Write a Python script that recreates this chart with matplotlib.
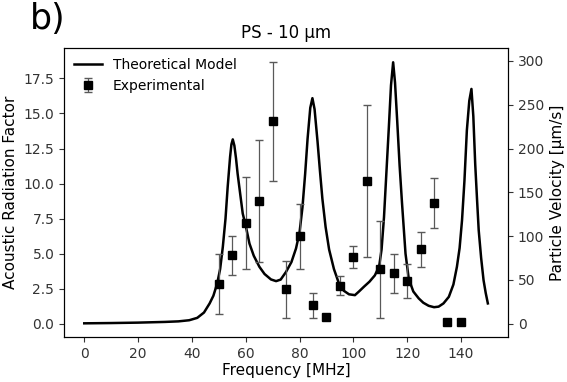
import numpy as np
import matplotlib
matplotlib.use("Agg")
import matplotlib.pyplot as plt

# theoretical model (MHz, acoustic radiation factor)
freq_model = [0, 10, 20, 30, 35, 39, 42, 44.5, 46.6, 48, 49.4, 50.5, 51.5, 52.5,
              53.3, 54.2, 54.7, 55.2, 55.8, 56.4, 57.0, 58.0, 58.9, 60.0, 61.4,
              63.0, 65.1, 67.0, 69.4, 71.3, 73.0, 75.0, 77.0, 78.7, 80.0, 81.1,
              82.1, 83.0, 84.0, 84.8, 85.6, 86.7, 87.6, 88.5, 89.7, 91.0, 92.8,
              94.7, 96.5, 98.4, 100.6, 102.1, 104.0, 106.0, 108.0, 109.6, 110.5,
              111.4, 112.3, 113.2, 114.0, 114.8, 115.5, 116.3, 117.2, 118.1,
              119.4, 120.6, 122.3, 124.3, 126.0, 128.0, 130.0, 131.7, 133.5,
              135.5, 137.2, 138.5, 139.5, 140.4, 141.3, 142.2, 143.1, 143.9,
              144.6, 145.3, 146.0, 146.6, 147.5, 148.4, 149.2, 150.0]
arf_model = [0.03, 0.05, 0.08, 0.13, 0.17, 0.25, 0.42, 0.8, 1.45, 2.0, 2.87, 3.9,
             5.48, 7.5, 9.75, 11.9, 12.8, 13.15, 12.7, 11.8, 10.7, 9.2, 7.86, 7.0,
             5.72, 4.85, 4.06, 3.55, 3.16, 3.04, 3.15, 3.7, 4.4, 5.37, 6.5, 8.3,
             10.7, 13.2, 15.4, 16.09, 15.3, 13.0, 10.9, 8.92, 6.9, 5.3, 3.9,
             2.85, 2.35, 2.1, 2.04, 2.3, 2.65, 3.0, 3.45, 4.1, 5.3, 7.6, 10.8,
             14.0, 17.0, 18.65, 17.2, 14.5, 11.3, 8.6, 5.0, 3.2, 2.3, 1.81, 1.5,
             1.28, 1.18, 1.22, 1.45, 1.92, 2.8, 4.06, 5.4, 7.38, 10.2, 13.8, 15.9,
             16.75, 14.8, 11.4, 8.8, 6.67, 4.7, 3.11, 2.2, 1.45]

# experimental points
freq_exp = [50, 55, 60, 65, 70, 75, 80, 85, 90, 95, 100, 105, 110, 115, 120, 125, 130, 135, 140]
arf_exp = [2.83, 4.89, 7.19, 8.76, 14.43, 2.45, 6.24, 1.33, 0.46, 2.71, 4.77, 10.18,
           3.87, 3.59, 3.06, 5.3, 8.62, 0.1, 0.14]
err_exp = [2.13, 1.4, 3.27, 4.34, 4.27, 2.04, 2.3, 0.89, 0.0, 0.68, 0.77, 5.4,
           3.44, 1.39, 1.19, 1.22, 1.78, 0.0, 0.0]

vel_per_arf = 16.0

fig = plt.figure(figsize=(5.67, 3.82), dpi=100)
ax = fig.add_axes([0.113, 0.118, 0.783, 0.756])

ax.plot(freq_model, arf_model, color='black', lw=1.8, label='Theoretical Model')
ax.errorbar(freq_exp, arf_exp, yerr=err_exp, fmt='s', color='black', ms=5.5,
            ecolor='0.35', elinewidth=0.9, capsize=3, label='Experimental')

ax.set_xlim(-7.5, 157.5)
ax.set_ylim(-0.94, 19.66)
ax.set_xticks(np.arange(0, 141, 20))
ax.set_yticks(np.arange(0, 17.6, 2.5))
ax.set_xlabel('Frequency [MHz]', fontsize=11, labelpad=2)
ax.set_ylabel('Acoustic Radiation Factor', fontsize=11)
ax.set_title('PS - 10 µm', fontsize=12, pad=7)
ax.tick_params(labelsize=10, colors='0.2')
ax.legend(loc='upper left', frameon=False, fontsize=10, borderaxespad=0.3)

ax2 = ax.twinx()
ax2.set_ylim(-0.94 * vel_per_arf, 19.66 * vel_per_arf)
ax2.set_yticks(np.arange(0, 301, 50))
ax2.set_ylabel('Particle Velocity [µm/s]', fontsize=11)
ax2.tick_params(labelsize=10, colors='0.2')

fig.text(0.052, 0.995, 'b)', fontsize=25, va='top', ha='left')

fig.savefig('out.png', dpi=100)
